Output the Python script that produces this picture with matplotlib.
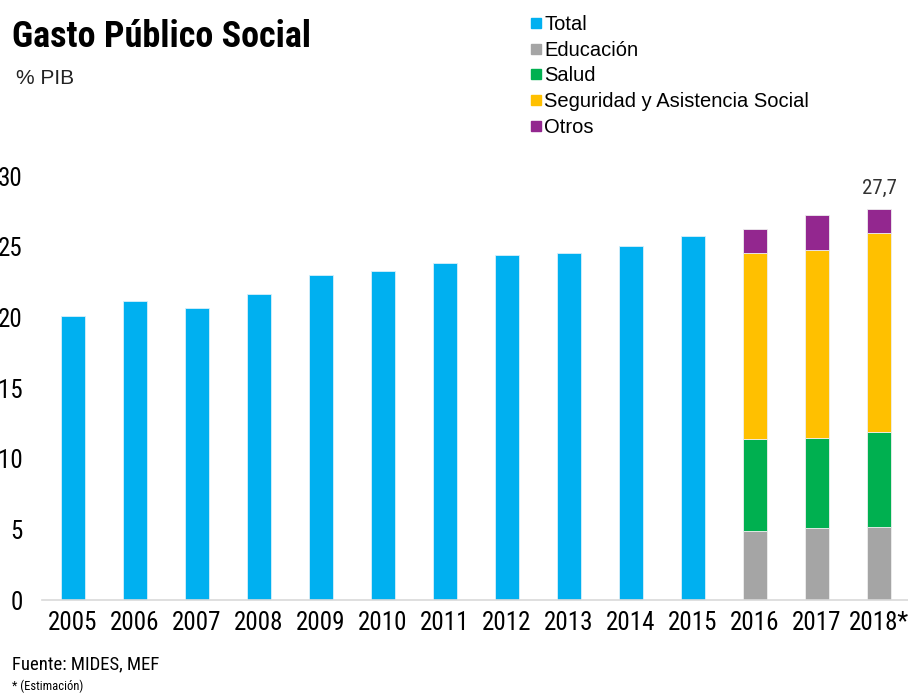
import numpy as np
import matplotlib
matplotlib.use("Agg")
import matplotlib.pyplot as plt
from matplotlib.lines import Line2D

# datos (% del PIB)
years = ["2005", "2006", "2007", "2008", "2009", "2010", "2011",
         "2012", "2013", "2014", "2015", "2016", "2017", "2018*"]
total = [20.1, 21.2, 20.7, 21.7, 23.0, 23.3, 23.9, 24.4, 24.6, 25.1, 25.8]
educacion = [4.9, 5.1, 5.2]
salud = [6.5, 6.4, 6.7]
seguridad = [13.2, 13.3, 14.1]
otros = [1.7, 2.5, 1.7]

c_total = "#00B0F0"
c_edu = "#A5A5A5"
c_salud = "#00B050"
c_seg = "#FFC000"
c_otros = "#93278F"

narrow = ["Roboto Condensed", "Liberation Sans Narrow", "Open Sans Condensed",
          "DejaVu Sans"]
plt.rcParams["font.family"] = narrow
plt.rcParams["font.stretch"] = "condensed"
regular = ["Liberation Sans", "DejaVu Sans"]

fig = plt.figure(figsize=(9.08, 6.93), dpi=100)
ax = fig.add_axes([42 / 908, 93 / 693, 868 / 908, 423.6 / 693])

x = np.arange(len(years))
w = 0.4
ek = dict(edgecolor="#d8f0fa", linewidth=0.6)

ax.bar(x[:len(total)], total, w, color=c_total, **ek)

xs = x[len(total):]
bottom = np.zeros(len(xs))
for vals, col in [(educacion, c_edu), (salud, c_salud), (seguridad, c_seg), (otros, c_otros)]:
    ax.bar(xs, vals, w, bottom=bottom, color=col, edgecolor="#eeeeee", linewidth=0.6)
    bottom = bottom + np.array(vals)

# etiqueta del ultimo año
ax.text(xs[-1], bottom[-1] + 0.8, f"{bottom[-1]:.1f}".replace(".", ","),
        ha="center", va="bottom", fontsize=15, color="#333333")

ax.set_xlim(-0.5, len(years) - 0.5)
ax.set_ylim(0, 30)
ax.set_yticks(range(0, 31, 5))
ax.set_xticks(x)
ax.set_xticklabels(years)
ax.tick_params(axis="y", length=0, pad=14, labelsize=18)
ax.tick_params(axis="x", length=0, pad=8, labelsize=18)
for s in ["top", "right", "left"]:
    ax.spines[s].set_visible(False)
ax.spines["bottom"].set_color("#d9d9d9")
ax.spines["bottom"].set_linewidth(1.2)

fig.text(12 / 908, 1 - 37 / 693, "Gasto Público Social", fontsize=26,
         fontweight="bold", va="center", ha="left")
fig.text(16 / 908, 1 - 79 / 693, "% PIB", fontsize=15, va="center", ha="left",
         family=regular, stretch="normal", color="#222222")

labels = ["Total", "Educación", "Salud", "Seguridad y Asistencia Social", "Otros"]
cols = [c_total, c_edu, c_salud, c_seg, c_otros]
handles = [Line2D([], [], marker="s", linestyle="", markersize=7, color=c) for c in cols]
fig.legend(handles, labels, loc="upper left", bbox_to_anchor=(530 / 908, 1 - 15 / 693),
           frameon=False, handlelength=0.6, handletextpad=0.1,
           labelspacing=0.33, borderpad=0, borderaxespad=0,
           prop={"family": regular, "size": 14.5, "stretch": "normal"})

fig.text(12 / 908, 1 - 664 / 693, "Fuente: MIDES, MEF", fontsize=13.5, va="center", ha="left")
fig.text(12 / 908, 1 - 686 / 693, "* (Estimación)", fontsize=9, va="center", ha="left")

fig.savefig("out.png", dpi=100)
